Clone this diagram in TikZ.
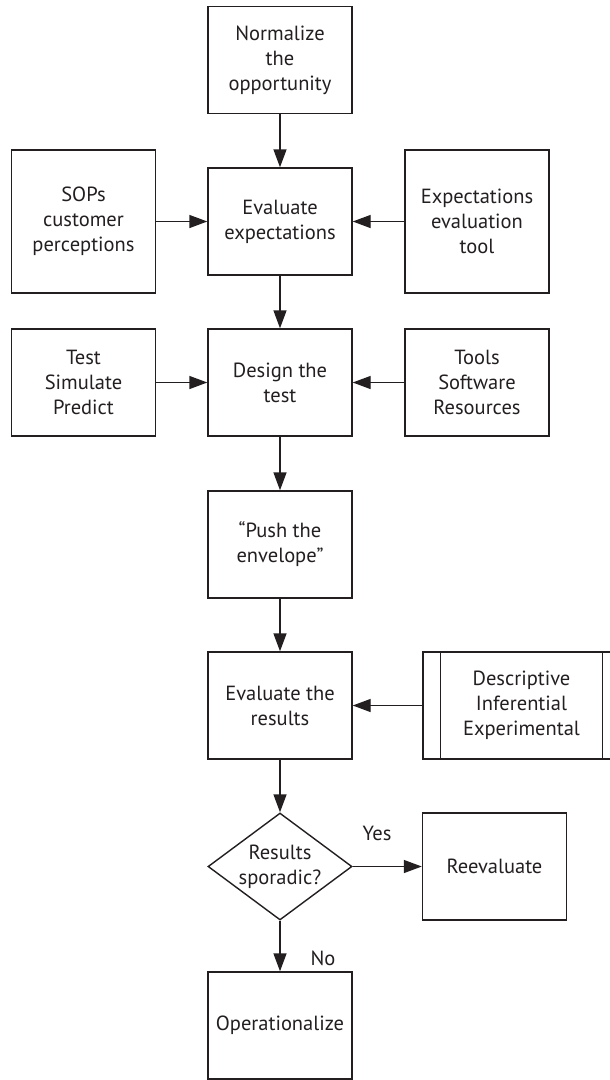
\documentclass[tikz,border=0pt]{standalone}
\usepackage{fontspec}
\setmainfont{PT Sans}
\usetikzlibrary{arrows.meta,shapes.geometric}
\definecolor{ink}{HTML}{231F20}
\begin{document}
\begin{tikzpicture}[x=1pt,y=-1pt,
  txt/.style={font=\fontsize{20.5}{25}\selectfont,text=ink,align=center},
  box/.style={txt,draw=ink,line width=1.4pt,rectangle,inner sep=0pt,
    minimum width=144pt,minimum height=107pt},
  sidebox/.style={box,minimum height=143pt},
  decision/.style={draw=ink,line width=1.4pt,diamond,inner sep=0pt,
    minimum width=144pt,minimum height=107pt},
  flow/.style={draw=ink,line width=1.4pt,-{Triangle[length=18pt,width=13pt]}}]
\clip (0,0) rectangle (610,1080);
\fill[white] (0,0) rectangle (610,1080);

% main column
\node[box] (norm)   at (280,60)    {Normalize\\the\\opportunity};
\node[box] (evalx)  at (280,221.5) {Evaluate\\expectations};
\node[box] (design) at (280,382.5) {Design the\\test};
\node[box] (push)   at (280,544.5) {``Push the\\envelope''};
\node[box] (evalr)  at (280,705.5) {Evaluate the\\results};
\node[decision, label={[txt]center:Results\\sporadic?}] (dec) at (280,866.5) {};
\node[box] (oper)   at (280,1025.5) {Operationalize};

% inputs on the sides
\node[sidebox] (sops)  at (83.5,221.5) {SOPs\\customer\\perceptions};
\node[sidebox] (tool)  at (477,221.5)  {Expectations\\evaluation\\tool};
\node[box]     (test)  at (83.5,382.5) {Test\\Simulate\\Predict};
\node[box]     (tools) at (477,382.5)  {Tools\\Software\\Resources};
\node[box, minimum width=197pt] (desc) at (521.5,705.5) {Descriptive\\Inferential\\Experimental};
\draw[ink,line width=1.4pt] ([xshift=18pt]desc.north west) -- ([xshift=18pt]desc.south west);
\draw[ink,line width=1.4pt] ([xshift=-18pt]desc.north east) -- ([xshift=-18pt]desc.south east);
\node[box] (reeval) at (494.5,866.5) {Reevaluate};

% branch labels
\node[txt] (yes) at (377,833) {Yes};
\node[txt] (no)  at (323,958) {No};

% connectors
\draw[flow] (norm) -- (evalx);
\draw[flow] (sops) -- (evalx);
\draw[flow] (tool) -- (evalx);
\draw[flow] (evalx) -- (design);
\draw[flow] (test) -- (design);
\draw[flow] (tools) -- (design);
\draw[flow] (design) -- (push);
\draw[flow] (push) -- (evalr);
\draw[flow] (desc) -- (evalr);
\draw[flow] (evalr) -- (dec);
\draw[flow] (dec.east) -- (reeval.west);
\draw[flow] (dec.south) -- (oper.north);
\end{tikzpicture}
\end{document}
